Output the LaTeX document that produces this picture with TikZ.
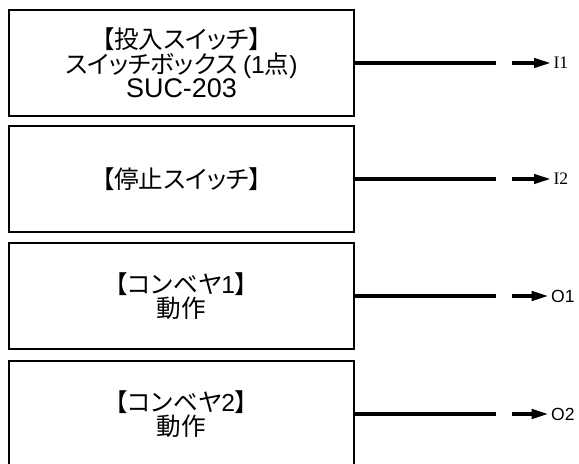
\documentclass[tikz,border=0pt]{standalone}
\usepackage{fontspec}
\setmainfont[RawFeature=+palt]{Noto Sans CJK JP}
\newfontfamily\lblserif{Liberation Serif}
\newfontfamily\lblsans{Liberation Sans}
\usetikzlibrary{arrows.meta,positioning}

\begin{document}
\begin{tikzpicture}[>={Triangle[length=5mm,width=2.8mm]}]
    \tikzset{block/.style= {draw, line width=0.9pt, rectangle, align=center, minimum width=10.35cm, minimum height=3.18cm, font=\fontsize{21}{21}\selectfont},
      wire/.style={draw, line width=2.8pt},
      sig/.style={inner sep=0.08cm, anchor=west, font=\fontsize{15}{17}\selectfont},
    }
    \useasboundingbox (0,0) rectangle (17.37,-13.92);

    \node[block] at (5.445,-1.89) (inswitch) {【投入スイッチ】\\スイッチボックス {\lblsans(1}点{\lblsans)}\\{\lblsans\fontsize{23}{21}\selectfont SUC-203}};
    \node[block] at (5.445,-5.37) (stopswitch) {【停止スイッチ】};
    \node[block] at (5.445,-8.88) (conv1) {【コンベヤ{\lblsans 1}】\\動作};
    \node[block] at (5.445,-12.42) (conv2) {【コンベヤ{\lblsans 2}】\\動作};

    \node[sig] at (16.52,-1.89) (i1) {\lblserif I1};
    \node[sig] at (16.52,-5.37) (i2) {\lblserif I2};
    \node[sig] at (16.45,-8.88) (o1) {\lblsans O1};
    \node[sig] at (16.45,-12.42) (o2) {\lblsans O2};

    \coordinate (w1) at (14.88,-1.89);
    \coordinate (w2) at (14.88,-5.37);
    \coordinate (w3) at (14.88,-8.88);
    \coordinate (w4) at (14.88,-12.42);
    \coordinate (a1) at (15.36,-1.89);
    \coordinate (a2) at (15.36,-5.37);
    \coordinate (a3) at (15.36,-8.88);
    \coordinate (a4) at (15.36,-12.42);

    \path[wire] (inswitch) -- (w1);
    \path[wire] (stopswitch) -- (w2);
    \path[wire] (conv1) -- (w3);
    \path[wire] (conv2) -- (w4);
    \path[wire,->] (a1) -- (i1);
    \path[wire,->] (a2) -- (i2);
    \path[wire,->] (a3) -- (o1);
    \path[wire,->] (a4) -- (o2);
  \end{tikzpicture}
\end{document}
